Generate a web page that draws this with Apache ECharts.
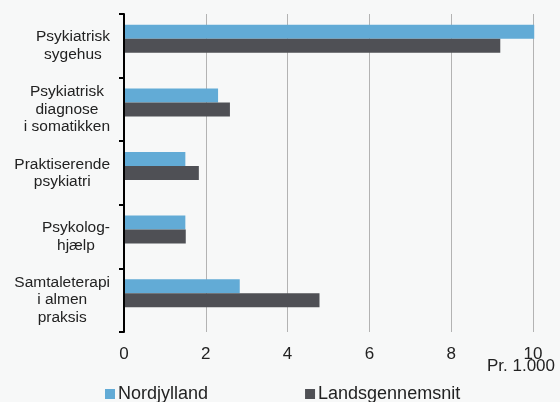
<!DOCTYPE html>
<html>
<head>
<meta charset="utf-8">
<script src="https://cdn.jsdelivr.net/npm/echarts@6/dist/echarts.min.js"></script>
<style>
html,body{margin:0;padding:0;background:#f7f8f8;}
#c{width:560px;height:402px;}
</style>
</head>
<body>
<div id="c"></div>
<script>
const categories = ['Psykiatrisk\nsygehus', 'Psykiatrisk\ndiagnose\ni somatikken', 'Praktiserende\npsykiatri', 'Psykolog-\nhjælp', 'Samtaleterapi\ni almen\npraksis'];
const nordjylland = [10.03, 2.3, 1.5, 1.5, 2.83];
const landsgennemsnit = [9.2, 2.59, 1.83, 1.51, 4.78];
const seriesNames = ['Nordjylland', 'Landsgennemsnit'];
const xTicks = { min: 0, max: 10, interval: 2 };
const unitLabel = 'Pr. 1.000';

const FONT = '"Liberation Sans", Arial, Helvetica, sans-serif';
const chart = echarts.init(document.getElementById('c'), null, { renderer: 'canvas' });
chart.setOption({
  backgroundColor: '#f7f8f8',
  animation: false,
  grid: { left: 124, right: 27, top: 14, bottom: 70, containLabel: false },
  legend: {
    data: seriesNames,
    left: 105, top: 385, padding: 0,
    icon: 'rect', itemWidth: 10, itemHeight: 10, itemGap: 97,
    textStyle: { fontFamily: FONT, fontSize: 18, color: '#222', padding: [0, 0, 0, -2] }
  },
  xAxis: {
    type: 'value', min: xTicks.min, max: xTicks.max, interval: xTicks.interval,
    axisLine: { show: false }, axisTick: { show: false },
    splitLine: { lineStyle: { color: '#b3b3b3', width: 1 } },
    axisLabel: { fontFamily: FONT, fontSize: 17, color: '#222', margin: 14 }
  },
  yAxis: {
    type: 'category', data: categories, inverse: true, z: 5,
    axisLine: { show: true, lineStyle: { color: '#000', width: 2 } },
    axisTick: { show: true, inside: false, length: 5, lineStyle: { color: '#000', width: 2 } },
    axisLabel: {
      margin: 14, align: 'right',
      formatter: v => v.split('\n').map(l => '{c|' + l + '}').join('\n'),
      rich: { c: { align: 'center', fontFamily: FONT, fontSize: 15.5, lineHeight: 17.5, color: '#222' } }
    }
  },
  graphic: [{
    type: 'text', right: 5, top: 358,
    style: { text: unitLabel, font: '17px ' + FONT, fill: '#222', textAlign: 'right' }
  }],
  series: [
    { name: seriesNames[0], type: 'bar', data: nordjylland, barWidth: 14, barGap: '0%', clip: false, itemStyle: { color: '#62abd6' } },
    { name: seriesNames[1], type: 'bar', data: landsgennemsnit, barWidth: 14, barGap: '0%', clip: false, itemStyle: { color: '#4f5055' } },
    { name: 'spacer', type: 'bar', data: [null, null, null, null, null], barWidth: 14, barGap: '0%', silent: true }
  ]
});
</script>
</body>
</html>
